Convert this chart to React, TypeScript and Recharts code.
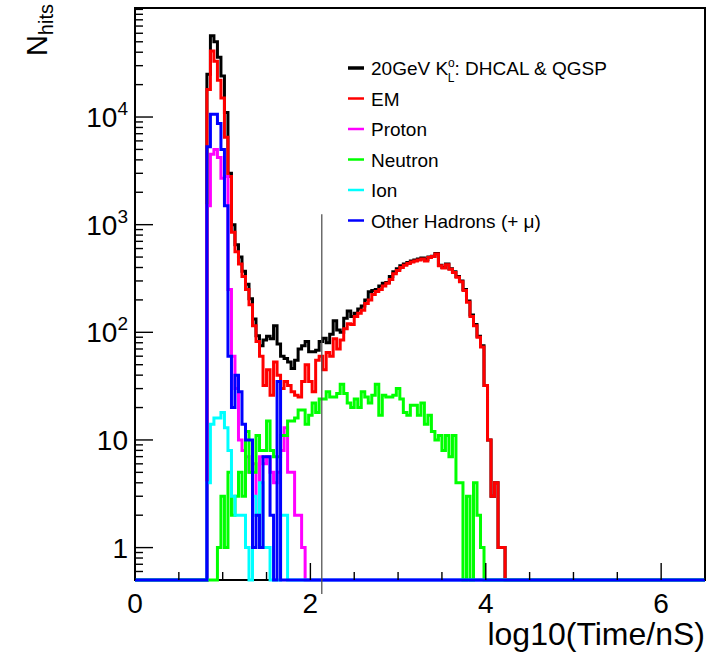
import { ComposedChart, Line, XAxis, YAxis, ReferenceLine, ReferenceArea } from "recharts";

// log10(time) histogram, bins of 0.04 starting at 0.82
const BIN_START = 0.82;
const BIN_WIDTH = 0.04;
const X_RANGE = [0, 6.5];
const Y_RANGE = [0.5, 103000];

const totalHits = [
  25000, 56800, 50000, 36000, 24000, 11000, 3000, 1000, 650, 500,
  370, 280, 205, 133, 93, 75, 85, 92, 87, 115,
  78, 60, 57, 53, 46, 55, 70, 75, 82, 66,
  66, 68, 82, 88, 80, 96, 128, 105, 100, 135,
  158, 140, 150, 165, 176, 200, 238, 245, 250, 270,
  285, 290, 330, 365, 390, 415, 430, 445, 460, 470,
  480, 490, 475, 500, 510, 540, 420, 400, 430, 390,
  365, 330, 300, 250, 195, 145, 118, 92, 75, 32,
  10, 3, 4, 1, 1,
];
const emHits = [
  18000, 41000, 33000, 22000, 15000, 6500, 2800, 850, 560, 430,
  330, 250, 180, 115, 82, 60, 32, 45, 26, 53,
  40, 30, 35, 32, 28, 26, 25, 35, 50, 35,
  28, 55, 60, 45, 65, 60, 87, 70, 85, 108,
  120, 118, 140, 150, 160, 185, 200, 225, 240, 250,
  270, 285, 310, 350, 375, 400, 420, 435, 450, 460,
  470, 480, 460, 495, 505, 535, 415, 395, 425, 385,
  360, 325, 295, 245, 190, 140, 115, 90, 73, 32,
  10, 3, 4, 1, 1,
];
const protonHits = [
  1500, 4500, 5000, 4200, 2700, 2800, 250, 60, 30, 10,
  8, 7, 5, 6, 2, 7, 6, 7, 5, 4,
  5, 8, 13, 5, 5, 2, 2, 1,
];
const neutronHits = [
  0, 0, 0, 1, 3, 1, 5, 2, 3, 5,
  3, 12, 5, 5, 11, 8, 8, 15, 8, 7,
  7, 11, 11, 15, 15, 16, 19, 19, 14, 17,
  22, 18, 24, 24, 28, 25, 25, 27, 33, 27,
  22, 20, 24, 20, 28, 25, 22, 26, 33, 17,
  26, 25, 25, 26, 30, 24, 18, 17, 21, 21,
  17, 22, 14, 17, 12, 10, 11, 8, 11, 7,
  11, 4, 4, 0, 3, 0, 4, 2, 1, 0,
];
const ionHits = [
  4, 14, 16, 16, 18, 13, 8, 3, 2, 2,
  2, 1, 0, 3, 2, 4, 1, 1, 0, 0,
  0, 2, 2,
];
const otherHits = [
  5300, 10600, 10600, 8700, 5000, 1500, 60, 20, 40, 28,
  14, 10, 10, 1, 2, 1, 7, 7, 2, 0,
  35,
];

const X_TICKS = [0, 0.5, 1, 1.5, 2, 2.5, 3, 3.5, 4, 4.5, 5, 5.5, 6, 6.5];
const X_LABELS = [0, 2, 4, 6];
const Y_DECADES = [1, 10, 100, 1000, 10000];
const Y_LABELS = [["1", ""], ["10", ""], ["10", "2"], ["10", "3"], ["10", "4"]];
const CUT_TIME = 2.13; // thin marker line
const CUT_RANGE = [0.37, 1250];

const SERIES = [
  { key: "total", color: "#000000", values: totalHits, label: "total" },
  { key: "em", color: "#ff0000", values: emHits, label: "EM" },
  { key: "proton", color: "#ff00ff", values: protonHits, label: "Proton" },
  { key: "neutron", color: "#00ff00", values: neutronHits, label: "Neutron" },
  { key: "ion", color: "#00ffff", values: ionHits, label: "Ion" },
  { key: "other", color: "#0000ff", values: otherHits, label: "Other Hadrons (+ \u03bc)" },
];

const FONT = "'Liberation Sans', Arial, Helvetica, sans-serif";
const NBINS = totalHits.length;

function buildRows() {
  const floor = Y_RANGE[0];
  const row = (x: number, i: number) => {
    const r: Record<string, number> = { x };
    SERIES.forEach((s) => {
      const v = i >= 0 && i < s.values.length ? s.values[i] : 0;
      r[s.key] = v > 0 ? v : floor;
    });
    return r;
  };
  const rows = [row(X_RANGE[0], -1)];
  for (let i = 0; i < NBINS; i++) rows.push(row(+(BIN_START + i * BIN_WIDTH).toFixed(3), i));
  rows.push(row(+(BIN_START + NBINS * BIN_WIDTH).toFixed(3), -1));
  rows.push(row(X_RANGE[1], -1));
  return rows;
}
const data = buildRows();

const yTicks: number[] = [];
[0.1, 1, 10, 100, 1000, 10000].forEach((d) => {
  for (let k = 1; k <= 9; k++) {
    const v = +(d * k).toPrecision(3);
    if (v >= 0.6 && v <= Y_RANGE[1]) yTicks.push(v);
  }
});
yTicks.push(100000);

function BottomTick({ x, y, payload }: any) {
  const v = payload.value;
  const major = X_LABELS.includes(v);
  return (
    <g>
      <line x1={x} x2={x} y1={y} y2={y - (major ? 17 : 8)} stroke="#000" strokeWidth={1.4} />
      {major && (
        <text x={x} y={y + 33} textAnchor="middle" fontSize={28} fontFamily={FONT} fill="#000">
          {v}
        </text>
      )}
    </g>
  );
}

function TopTick({ x, y, payload }: any) {
  const major = X_LABELS.includes(payload.value);
  return <line x1={x} x2={x} y1={y} y2={y + (major ? 17 : 8)} stroke="#000" strokeWidth={1.4} />;
}

function LeftTick({ x, y, payload }: any) {
  const v = payload.value;
  const idx = Y_DECADES.indexOf(v);
  const major = idx >= 0;
  return (
    <g>
      <line x1={x} x2={x + (major ? 18 : 8)} y1={y} y2={y} stroke="#000" strokeWidth={1.4} />
      {major && (
        <text x={x - 7} y={y + 10} textAnchor="end" fontSize={28} fontFamily={FONT} fill="#000">
          {Y_LABELS[idx][0]}
          {Y_LABELS[idx][1] && (
            <tspan dy={-12} fontSize={19}>
              {Y_LABELS[idx][1]}
            </tspan>
          )}
        </text>
      )}
    </g>
  );
}

function Overlay() {
  const rowY = (i: number) => 68 + i * 30.5;
  return (
    <svg
      width={709}
      height={654}
      style={{ position: "absolute", left: 0, top: 0, pointerEvents: "none" }}
      fontFamily={FONT}
    >
      <text transform="translate(47,4) rotate(-90)" textAnchor="end" fontSize={29} fill="#000">
        N
        <tspan fontSize={20} dy={6}>
          hits
        </tspan>
      </text>
      <text x={705} y={645} textAnchor="end" fontSize={32} fill="#000">
        log10(Time/nS)
      </text>
      {SERIES.map((s, i) => (
        <g key={s.key}>
          <line
            x1={348}
            x2={364}
            y1={rowY(i)}
            y2={rowY(i)}
            stroke={s.color}
            strokeWidth={i === 0 ? 3.5 : 2.5}
          />
          {i === 0 ? (
            <text x={371} y={rowY(i) + 7} fontSize={19} fill="#000">
              20GeV K
              <tspan dy={-8} fontSize={12}>o</tspan>
              <tspan dx={-7} dy={15} fontSize={12}>L</tspan>
              <tspan dy={-7}>: DHCAL &amp; QGSP</tspan>
            </text>
          ) : (
            <text x={371} y={rowY(i) + 7} fontSize={19} fill="#000">
              {s.label}
            </text>
          )}
        </g>
      ))}
    </svg>
  );
}

export default function App() {
  return (
    <div style={{ position: "absolute", left: 0, top: 0, width: 709, height: 654, background: "#fff" }}>
      <ComposedChart width={709} height={654} data={data} margin={{ top: 8, right: 4, left: 0, bottom: 0 }}>
        <XAxis
          dataKey="x"
          type="number"
          domain={X_RANGE}
          ticks={X_TICKS}
          interval={0}
          height={74}
          tickSize={0}
          tickMargin={0}
          axisLine={false}
          tick={<BottomTick />}
        />
        <XAxis
          xAxisId="top"
          orientation="top"
          dataKey="x"
          type="number"
          domain={X_RANGE}
          ticks={X_TICKS}
          interval={0}
          height={0}
          tickSize={0}
          tickMargin={0}
          axisLine={false}
          tick={<TopTick />}
        />
        <YAxis
          type="number"
          scale="log"
          domain={Y_RANGE}
          ticks={yTicks}
          interval={0}
          width={135}
          tickSize={0}
          tickMargin={0}
          axisLine={false}
          tick={<LeftTick />}
        />
        <ReferenceArea
          x1={X_RANGE[0]}
          x2={X_RANGE[1]}
          y1={Y_RANGE[0]}
          y2={Y_RANGE[1]}
          fill="none"
          fillOpacity={0}
          stroke="#000"
          strokeWidth={2}
          ifOverflow="visible"
        />
        {SERIES.map((s) => (
          <Line
            key={s.key}
            dataKey={s.key}
            type="stepAfter"
            stroke={s.color}
            strokeWidth={3}
            dot={false}
            activeDot={false}
            isAnimationActive={false}
          />
        ))}
        <ReferenceLine
          segment={[
            { x: CUT_TIME, y: CUT_RANGE[0] },
            { x: CUT_TIME, y: CUT_RANGE[1] },
          ]}
          stroke="#555"
          strokeWidth={1.3}
          ifOverflow="visible"
        />
      </ComposedChart>
      <Overlay />
    </div>
  );
}
